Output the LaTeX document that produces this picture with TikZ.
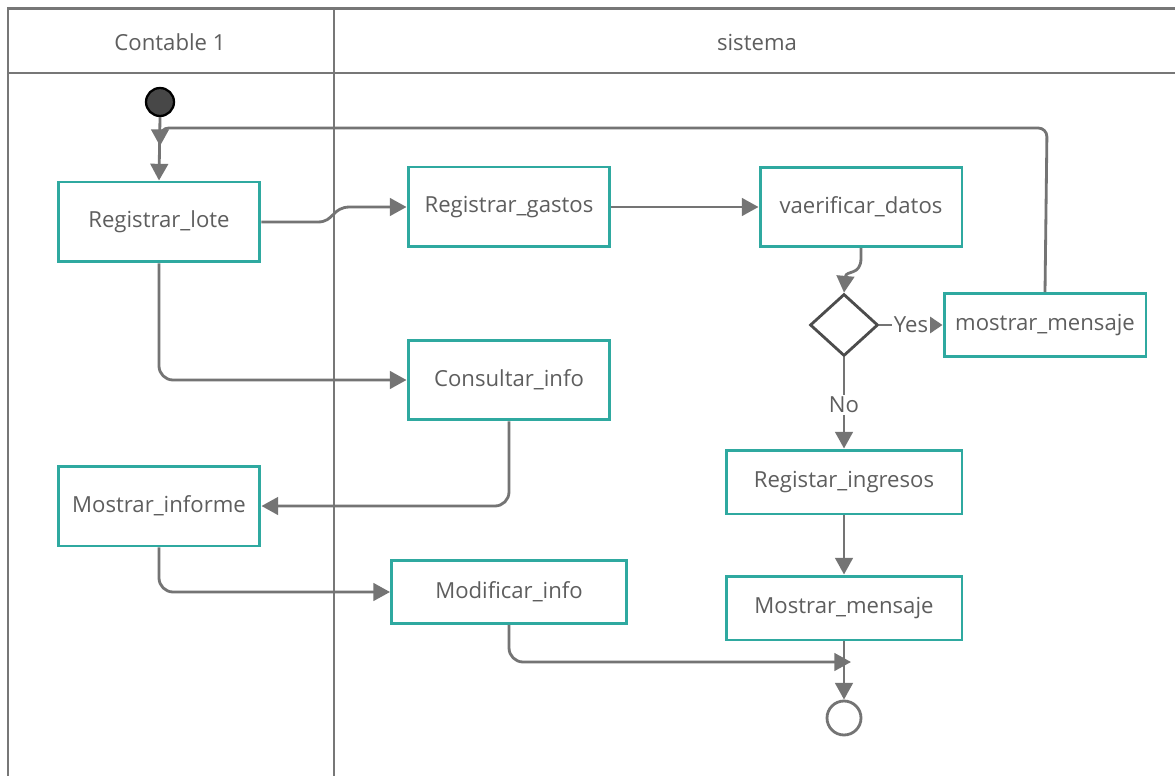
\documentclass[tikz,border=0pt]{standalone}
\usepackage{fontspec}
\setmainfont{Open Sans}
\usetikzlibrary{arrows.meta,shapes.geometric}
\definecolor{lineg}{HTML}{747474}
\definecolor{frameg}{HTML}{777777}
\definecolor{boxteal}{HTML}{2FA9A0}
\definecolor{txtg}{HTML}{5E5E5E}
\tikzset{
  actbox/.style={draw=boxteal, line width=1.7pt, fill=white, inner sep=0pt,
    text=txtg, font=\fontsize{12.6}{14}\selectfont},
  flow/.style={draw=lineg, line width=1.6pt, rounded corners=8pt,
    -{Triangle[length=9.5pt,width=10pt]}},
  plain/.style={draw=lineg, line width=1.6pt, rounded corners=8pt},
  lanetxt/.style={text=txtg, font=\fontsize{12.6}{14}\selectfont},
}
\begin{document}
\begin{tikzpicture}[x=0.02cm,y=-0.02cm]
\useasboundingbox (0,0) rectangle (1175,776);
\fill[white] (0,0) rectangle (1175,776);

% swimlane frame
\draw[frameg, line width=1.7pt] (8,776) -- (8,9) -- (1175,9);
\draw[frameg, line width=1.7pt] (8,73) -- (1175,73);
\draw[frameg, line width=1.7pt] (334,9) -- (334,776);
\node[lanetxt] (laneA) at (170,42) {Contable 1};
\node[lanetxt] (laneB) at (757,42) {sistema};

% start and end
\node[circle, fill=black!72, draw=black, line width=1.3pt, minimum size=0.56cm, inner sep=0pt] (start) at (160,102) {};
\node[circle, draw=lineg, line width=1.6pt, fill=white, minimum size=0.68cm, inner sep=0pt] (fin) at (844,718) {};

% activities
\node[actbox, minimum width=4.04cm, minimum height=1.6cm] (lote) at (159,222) {Registrar\_lote};
\node[actbox, minimum width=4.04cm, minimum height=1.6cm] (gastos) at (509,207) {Registrar\_gastos};
\node[actbox, minimum width=4.04cm, minimum height=1.58cm] (verif) at (861,207) {vaerificar\_datos};
\node[actbox, minimum width=4.04cm, minimum height=1.26cm] (mm) at (1045,325) {mostrar\_mensaje};
\node[actbox, minimum width=4.04cm, minimum height=1.6cm] (consul) at (509,380) {Consultar\_info};
\node[actbox, minimum width=4.04cm, minimum height=1.6cm] (inform) at (159,506) {Mostrar\_informe};
\node[actbox, minimum width=4.72cm, minimum height=1.28cm] (ingr) at (844,482) {Registar\_ingresos};
\node[actbox, minimum width=4.7cm, minimum height=1.26cm] (modif) at (509,592) {Modificar\_info};
\node[actbox, minimum width=4.72cm, minimum height=1.28cm] (mostr) at (844,608) {Mostrar\_mensaje};

% decision
\node[diamond, draw=black!70, line width=1.6pt, fill=white, minimum width=1.36cm, minimum height=1.24cm, inner sep=0pt] (dec) at (844,325) {};
\node[lanetxt, inner sep=1pt] (yes) at (911,325) {Yes};
\node[lanetxt, inner sep=1pt] (no) at (844,405) {No};

% merge points
\coordinate (loopin) at (160,146);
\coordinate (merge) at (851,662);

% flows
\draw[flow] (start.south) -- (lote.north);
\draw[flow, rounded corners=5pt] (mm.north) -- (1047,128) -- (160,128) -- (loopin);
\draw[flow, rounded corners=0pt] (lote.east) -- (318,222) .. controls (334,222) and (332,207) .. (350,207) -- (gastos.west);
\draw[flow] (gastos.east) -- (verif.west);
\draw[flow, rounded corners=0pt] (verif.south) -- (861,258) .. controls (861,276) and (846,270) .. (dec.north);
\draw[plain] (dec.east) -- (yes.west);
\draw[flow, -{Triangle[length=7pt,width=9pt]}] (yes.east) -- (mm.west);
\draw[plain] (dec.south) -- (no.north);
\draw[flow] (no.south) -- (ingr.north);
\draw[flow] (ingr.south) -- (mostr.north);
\draw[flow] (mostr.south) -- (fin.north);
\draw[flow] (lote.south) |- (consul.west);
\draw[flow] (consul.south) |- (inform.east);
\draw[flow] (inform.south) |- (modif.west);
\draw[flow] (modif.south) |- (merge);
\end{tikzpicture}
\end{document}
